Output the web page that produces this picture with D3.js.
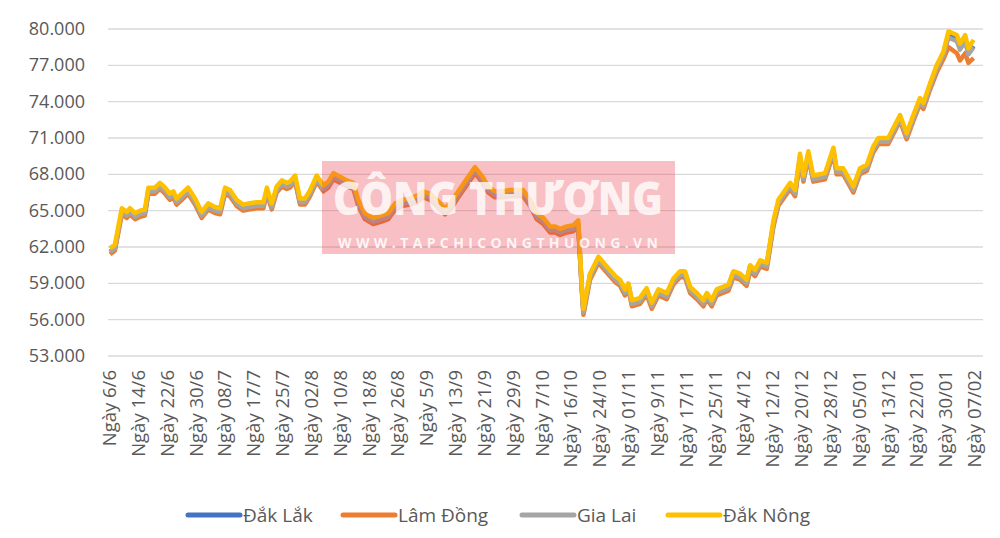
<!DOCTYPE html>
<html>
<head>
<meta charset="utf-8">
<script src="https://cdn.jsdelivr.net/npm/d3@7"></script>
<style>
  body { margin: 0; background: #fff; }
  text { font-family: "Open Sans", "Noto Sans", sans-serif; fill: #595959; }
</style>
</head>
<body>
<svg width="1000" height="538"></svg>
<script>
// nhãn trục X (ngày)
var labels = ["Ngày 6/6","Ngày 14/6","Ngày 22/6","Ngày 30/6","Ngày 08/7","Ngày 17/7","Ngày 25/7","Ngày 02/8","Ngày 10/8","Ngày 18/8","Ngày 26/8","Ngày 5/9","Ngày 13/9","Ngày 21/9","Ngày 29/9","Ngày 7/10","Ngày 16/10","Ngày 24/10","Ngày 01/11","Ngày 9/11","Ngày 17/11","Ngày 25/11","Ngày 4/12","Ngày 12/12","Ngày 20/12","Ngày 28/12","Ngày 05/01","Ngày 13/12","Ngày 22/01","Ngày 30/01","Ngày 07/02"];

// vị trí điểm theo đơn vị nhãn
var days = [0,.17,.41,.58,.69,.87,1.04,1.21,1.33,1.56,
  1.73,1.91,2.08,2.2,2.31,2.49,2.71,2.95,3.18,3.41,
  3.64,3.82,3.99,4.16,4.39,4.62,4.8,5.09,5.32,5.44,
  5.61,5.78,5.96,6.13,6.24,6.42,6.59,6.76,6.94,7.17,
  7.4,7.57,7.75,7.98,8.21,8.44,8.61,8.84,9.13,9.42,
  9.65,9.89,10.17,10.41,10.69,10.86,11.1,11.33,11.62,11.85,
  12.02,12.31,12.66,12.89,13.12,13.35,13.64,13.87,14.33,14.57,
  14.8,15.03,15.26,15.44,15.61,15.84,16.07,16.24,16.36,16.42,
  16.65,16.94,17.23,17.52,17.69,17.86,17.98,18.1,18.38,18.61,
  18.79,19.02,19.31,19.54,19.77,19.94,20.12,20.35,20.58,20.7,
  20.87,21.04,21.45,21.62,21.85,22.08,22.2,22.37,22.55,22.78,
  23.01,23.18,23.59,23.76,23.93,24.05,24.22,24.39,24.8,25.09,
  25.2,25.43,25.78,26.01,26.25,26.47,26.65,26.99,27.4,27.63,
  27.86,28.09,28.21,28.44,28.67,28.9,29.08,29.37,29.48,29.66,
  29.77,29.95];

var dakNong = [61.9,62.2,65.2,64.9,65.2,64.8,65.0,65.1,66.9,66.9,
  67.3,66.9,66.4,66.6,66.0,66.4,66.9,66.0,64.9,65.6,
  65.3,65.2,66.9,66.7,65.9,65.5,65.6,65.7,65.7,66.9,
  65.6,67.0,67.5,67.3,67.4,67.9,66.0,66.0,66.7,67.9,
  67.1,67.4,68.1,67.8,67.5,67.3,65.9,64.8,64.4,64.6,
  64.8,65.6,65.9,66.0,66.3,66.6,66.4,65.9,65.2,65.7,
  66.4,67.4,68.6,67.9,67.0,66.6,66.6,66.7,66.7,65.9,
  64.8,64.4,63.7,63.7,63.5,63.7,63.8,64.2,59.0,56.9,
  59.8,61.2,60.4,59.6,59.3,58.5,59.0,57.6,57.8,58.6,
  57.4,58.5,58.2,59.4,60.0,60.0,58.7,58.2,57.6,58.2,
  57.6,58.5,58.9,60.0,59.8,59.3,60.5,60.1,60.9,60.7,
  64.2,65.9,67.3,66.7,69.7,67.9,69.9,67.9,68.1,70.2,
  68.5,68.5,67.0,68.5,68.8,70.3,71.0,71.0,72.9,71.4,
  72.9,74.3,73.9,75.5,77.0,78.1,79.8,79.5,78.8,79.5,
  78.4,79.1];

var giaLai = [61.6,61.9,64.9,64.6,64.9,64.5,64.7,64.8,66.6,66.6,
  67.0,66.6,66.1,66.3,65.7,66.1,66.6,65.7,64.6,65.3,
  65.0,64.9,66.6,66.4,65.6,65.2,65.3,65.4,65.4,66.6,
  65.3,66.7,67.2,67.0,67.1,67.6,65.7,65.7,66.4,67.6,
  66.8,67.1,67.8,67.5,67.2,67.0,65.6,64.5,64.1,64.3,
  64.5,65.3,65.6,65.7,66.0,66.3,66.1,65.6,64.9,65.4,
  66.1,67.1,68.3,67.6,66.7,66.3,66.3,66.4,66.4,65.6,
  64.5,64.1,63.4,63.4,63.2,63.4,63.5,63.9,58.7,56.6,
  59.5,60.9,60.1,59.3,59.0,58.2,58.7,57.3,57.5,58.3,
  57.1,58.2,57.9,59.1,59.7,59.7,58.4,57.9,57.3,57.9,
  57.3,58.2,58.6,59.7,59.5,59.0,60.2,59.8,60.6,60.4,
  63.9,65.6,67.0,66.4,69.4,67.6,69.6,67.6,67.8,69.9,
  68.2,68.2,66.7,68.2,68.5,70.0,70.7,70.7,72.6,71.1,
  72.6,74.0,73.6,75.2,76.7,77.8,79.3,79.0,78.3,79.0,
  77.9,78.5];

var dakLak = [61.6,61.9,64.9,64.6,64.9,64.5,64.7,64.8,66.6,66.6,
  67.0,66.6,66.1,66.3,65.7,66.1,66.6,65.7,64.6,65.3,
  65.0,64.9,66.6,66.4,65.6,65.2,65.3,65.4,65.4,66.6,
  65.3,66.7,67.2,67.0,67.1,67.6,65.7,65.7,66.4,67.6,
  66.8,67.1,67.8,67.5,67.2,67.0,65.6,64.5,64.1,64.3,
  64.5,65.3,65.6,65.7,66.0,66.3,66.1,65.6,64.9,65.4,
  66.1,67.1,68.3,67.6,66.7,66.3,66.3,66.4,66.4,65.6,
  64.5,64.1,63.4,63.4,63.2,63.4,63.5,63.9,58.7,56.6,
  59.7,61.1,60.3,59.5,59.2,58.4,58.9,57.5,57.7,58.5,
  57.3,58.4,58.1,59.3,59.9,59.9,58.6,58.1,57.5,58.1,
  57.5,58.4,58.8,59.9,59.7,59.2,60.4,60.0,60.8,60.6,
  63.9,65.6,67.0,66.4,69.4,67.6,69.6,67.6,67.8,69.9,
  68.2,68.2,66.7,68.2,68.5,70.0,70.7,70.7,72.6,71.1,
  72.6,74.0,73.6,75.2,76.7,77.8,79.5,79.1,78.5,79.1,
  78.0,78.6];

var lamDong = [61.4,61.7,64.7,64.4,64.7,64.3,64.5,64.6,66.4,66.4,
  66.8,66.4,65.9,66.1,65.5,65.9,66.4,65.5,64.4,65.1,
  64.8,64.7,66.4,66.2,65.4,65.0,65.1,65.2,65.2,66.4,
  65.1,66.5,67.0,66.8,66.9,67.4,65.5,65.5,66.2,67.4,
  66.6,66.9,67.6,67.3,67.0,66.8,65.4,64.3,63.9,64.1,
  64.3,65.1,65.4,65.5,65.8,66.1,65.9,65.4,64.7,65.2,
  65.9,66.9,68.1,67.4,66.5,66.1,66.1,66.2,66.2,65.4,
  64.3,63.9,63.2,63.2,63.0,63.2,63.3,63.7,58.5,56.4,
  59.3,60.7,59.9,59.1,58.8,58.0,58.5,57.1,57.3,58.1,
  56.9,58.0,57.7,58.9,59.5,59.5,58.2,57.7,57.1,57.7,
  57.1,58.0,58.4,59.5,59.3,58.8,60.0,59.6,60.4,60.2,
  63.7,65.4,66.8,66.2,69.2,67.4,69.4,67.4,67.6,69.7,
  68.0,68.0,66.5,68.0,68.3,69.8,70.5,70.5,72.4,70.9,
  72.4,73.8,73.4,75.0,76.4,77.5,78.5,78.0,77.4,78.0,
  77.2,77.6];

var yTicks = [53,56,59,62,65,68,71,74,77,80];

var series = [
  {name: "Đắk Lắk", values: dakLak, color: "#4472C4"},
  {name: "Lâm Đồng", values: lamDong, color: "#ED7D31"},
  {name: "Gia Lai", values: giaLai, color: "#A5A5A5"},
  {name: "Đắk Nông", values: dakNong, color: "#FFC000"}
];

var svg = d3.select("svg");

var x = d3.scaleLinear().domain([0, 30]).range([110, 975]);
var y = d3.scaleLinear().domain([53, 80]).range([356, 29]);

// lưới ngang
svg.append("g")
  .selectAll("line")
  .data(yTicks)
  .enter()
  .append("line")
  .attr("x1", 108).attr("x2", 983)
  .attr("y1", function(d) { return y(d); })
  .attr("y2", function(d) { return y(d); })
  .attr("stroke", "#d9d9d9")
  .attr("stroke-width", 1.3);

// nhãn trục Y
svg.append("g")
  .selectAll("text")
  .data(yTicks)
  .enter()
  .append("text")
  .attr("x", 85)
  .attr("y", function(d) { return y(d) + 6; })
  .attr("text-anchor", "end")
  .style("font-size", "18px")
  .text(function(d) { return d3.format(".3f")(d); });

// nhãn trục X
svg.append("g")
  .selectAll("text")
  .data(labels)
  .enter()
  .append("text")
  .attr("transform", function(d, i) {
    return "translate(" + (x(i) + 6) + ",370) rotate(-90)";
  })
  .attr("text-anchor", "end")
  .style("font-size", "18.5px")
  .text(function(d) { return d; });

// đường giá
var line = d3.line()
  .x(function(d, i) { return x(days[i]); })
  .y(function(d) { return y(d); });

svg.append("g")
  .selectAll("path")
  .data(series)
  .enter()
  .append("path")
  .attr("d", function(d) { return line(d.values); })
  .attr("fill", "none")
  .attr("stroke", function(d) { return d.color; })
  .attr("stroke-width", 4.5)
  .attr("stroke-linejoin", "round");

// watermark
var wm = svg.append("g");
wm.append("rect")
  .attr("x", 322).attr("y", 161).attr("width", 353).attr("height", 93)
  .attr("fill", "rgba(232,60,70,0.32)");
wm.append("text")
  .attr("x", 498).attr("y", 215)
  .attr("text-anchor", "middle")
  .style("font-size", "46px").style("font-weight", "800")
  .style("fill", "rgba(255,255,255,0.8)")
  .attr("textLength", 330)
  .attr("lengthAdjust", "spacingAndGlyphs")
  .text("CÔNG THƯƠNG");
wm.append("text")
  .attr("x", 498).attr("y", 248)
  .attr("text-anchor", "middle")
  .style("font-size", "14px").style("font-weight", "700")
  .style("fill", "rgba(255,255,255,0.85)")
  .attr("textLength", 320)
  .text("WWW.TAPCHICONGTHUONG.VN");

// chú thích
var legendX = [188, 343, 522, 668];
var legend = svg.append("g")
  .selectAll("g")
  .data(series)
  .enter()
  .append("g")
  .attr("transform", function(d, i) { return "translate(" + legendX[i] + ",515)"; });
legend.append("line")
  .attr("x1", 0).attr("x2", 52)
  .attr("stroke", function(d) { return d.color; })
  .attr("stroke-width", 5)
  .attr("stroke-linecap", "round");
legend.append("text")
  .attr("x", 55).attr("y", 7)
  .style("font-size", "19px")
  .text(function(d) { return d.name; });
</script>
</body>
</html>
